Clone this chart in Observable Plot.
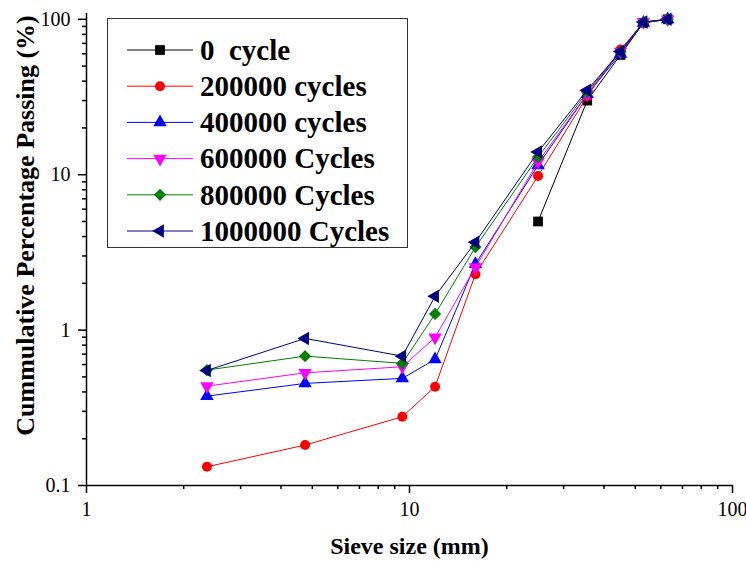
<!DOCTYPE html>
<html>
<head>
<meta charset="utf-8">
<script src="https://cdn.jsdelivr.net/npm/d3@7"></script>
<script src="https://cdn.jsdelivr.net/npm/@observablehq/plot@0.6"></script>
<style>
  html, body { margin: 0; padding: 0; background: #fff; }
  #wrap { position: relative; width: 746px; height: 561px; }
  #legend { position: absolute; left: 0; top: 0; pointer-events: none; }
  #legend text { font-family: "Liberation Serif", "Times New Roman", serif; font-weight: bold; font-size: 29px; white-space: pre; }
</style>
</head>
<body>
<div id="wrap"></div>
<script>
// ---- data ----
const sieveSizes = [2.36, 4.75, 9.5, 12, 16, 25, 35.5, 45, 53, 63];
const sieveSizes0 = [25, 35.5, 45, 53, 63];
const pass0 = [5, 30, 59, 95, 100];
const pass200k = [0.132, 0.182, 0.277, 0.432, 2.29, 9.8, 32, 64, 95, 100];
const pass400k = [0.376, 0.454, 0.489, 0.648, 2.66, 11.5, 33, 60, 95, 100];
const pass600k = [0.436, 0.531, 0.581, 0.897, 2.54, 12.1, 33, 62, 96, 100];
const pass800k = [0.553, 0.680, 0.611, 1.27, 3.42, 13.0, 34, 62, 96, 100];
const pass1000k = [0.550, 0.884, 0.680, 1.65, 3.68, 14.0, 35, 62, 96, 100];
const seriesNames = ["0  cycle", "200000 cycles", "400000 cycles", "600000 Cycles", "800000 Cycles", "1000000 Cycles"];
const xMajorTicks = [1, 10, 100];
const xMinorTicks = [2, 3, 4, 5, 6, 7, 8, 9, 20, 30, 40, 50, 60, 70, 80, 90];
const yMajorTicks = [0.1, 1, 10, 100];
const yMinorTicks = [0.2, 0.3, 0.4, 0.5, 0.6, 0.7, 0.8, 0.9, 2, 3, 4, 5, 6, 7, 8, 9, 20, 30, 40, 50, 60, 70, 80, 90];
const xTitle = "Sieve size (mm)";
const yTitle = "Cummulative Percentage Passing (%)";

// ---- styling ----
const styles = [
  {color: "#000000", symbol: "square", rotate: 0, r: 5.5, d3sym: d3.symbolSquare},
  {color: "#ff0000", symbol: "circle", rotate: 0, r: 5, d3sym: d3.symbolCircle},
  {color: "#0000ff", symbol: "triangle", rotate: 0, r: 5, d3sym: d3.symbolTriangle},
  {color: "#ff00ff", symbol: "triangle", rotate: 180, r: 5, d3sym: d3.symbolTriangle},
  {color: "#008000", symbol: "diamond2", rotate: 0, r: 5.5, d3sym: d3.symbolDiamond2},
  {color: "#000080", symbol: "triangle", rotate: -90, r: 5, d3sym: d3.symbolTriangle}
];
const xsList = [sieveSizes0, sieveSizes, sieveSizes, sieveSizes, sieveSizes, sieveSizes];
const ysList = [pass0, pass200k, pass400k, pass600k, pass800k, pass1000k];
const series = seriesNames.map((name, i) => ({
  name, ...styles[i],
  data: xsList[i].map((x, j) => ({x, y: ysList[i][j]}))
}));

const font = "'Liberation Serif', 'Times New Roman', serif";
const marks = [];
for (const s of series) {
  marks.push(Plot.line(s.data, {x: "x", y: "y", stroke: s.color, strokeWidth: 1}));
  marks.push(Plot.dot(s.data, {x: "x", y: "y", symbol: s.symbol, r: s.r, rotate: s.rotate, fill: s.color}));
}

const chart = Plot.plot({
  width: 746,
  height: 561,
  marginLeft: 86,
  marginRight: 14,
  marginTop: 13,
  marginBottom: 76,
  style: {fontFamily: font, fontSize: "20px", color: "#000", background: "#fff"},
  x: {type: "log", domain: [1, 100]},
  y: {type: "log", domain: [0.1, 109]},
  marks: [
    Plot.axisX(xMinorTicks, {tickSize: 4, tickFormat: () => "", strokeWidth: 1.5, label: null}),
    Plot.axisX(xMajorTicks, {tickSize: 8, tickPadding: 8, tickFormat: d => String(d), strokeWidth: 1.5, fontSize: 20, label: null}),
    Plot.axisY(yMinorTicks, {tickSize: 4, tickFormat: () => "", strokeWidth: 1.5, label: null}),
    Plot.axisY(yMajorTicks, {tickSize: 8, tickPadding: 8, tickFormat: d => String(d), strokeWidth: 1.5, fontSize: 20, label: null}),
    Plot.ruleX([1], {stroke: "#000", strokeWidth: 1.5}),
    Plot.ruleY([0.1], {stroke: "#000", strokeWidth: 1.5}),
    ...marks,
    Plot.text([xTitle], {frameAnchor: "bottom", lineAnchor: "bottom", dy: 68, fontSize: 24, fontWeight: "bold", text: d => d}),
    Plot.text([yTitle], {frameAnchor: "left", lineAnchor: "bottom", textAnchor: "middle", rotate: -90, dx: -53, dy: -24, fontSize: 26, fontWeight: "bold", text: d => d})
  ]
});

const wrap = document.getElementById("wrap");
wrap.appendChild(chart);

// ---- legend overlay ----
const leg = d3.select(wrap).append("svg")
  .attr("id", "legend").attr("width", 746).attr("height", 561);
leg.append("rect").attr("x", 107.5).attr("y", 18.5).attr("width", 300).attr("height", 229)
  .attr("fill", "#fff").attr("stroke", "#333").attr("stroke-width", 1);
series.forEach((s, i) => {
  const cy = 50 + i * 36.2;
  const g = leg.append("g");
  g.append("line").attr("x1", 127).attr("x2", 193).attr("y1", cy).attr("y2", cy)
    .attr("stroke", s.color).attr("stroke-width", 1);
  g.append("path").attr("d", d3.symbol().type(s.d3sym).size(Math.PI * s.r * s.r)())
    .attr("transform", `translate(160,${cy}) rotate(${s.rotate})`).attr("fill", s.color);
  g.append("text").attr("x", 200).attr("y", cy).attr("dy", "0.34em")
    .text(s.name);
});
</script>
</body>
</html>
